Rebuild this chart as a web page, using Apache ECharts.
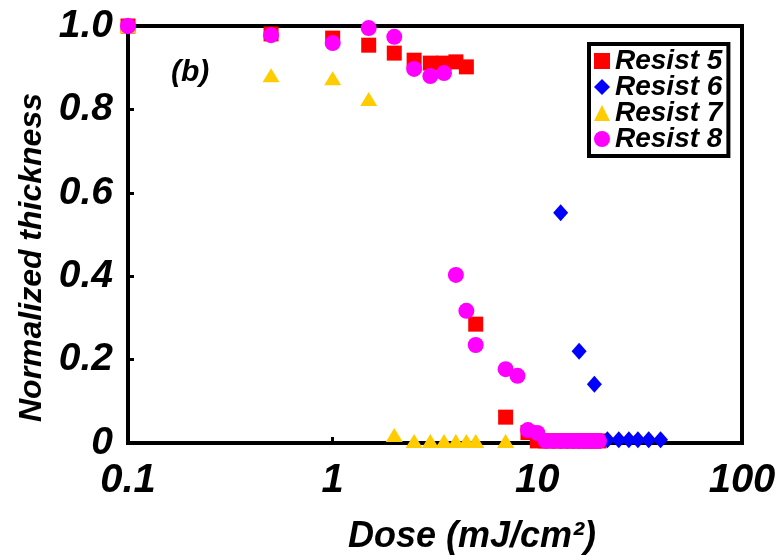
<!DOCTYPE html>
<html>
<head>
<meta charset="utf-8">
<script src="https://cdn.jsdelivr.net/npm/echarts@6/dist/echarts.min.js"></script>
<style>html,body{margin:0;padding:0;background:#fff;}#c{width:782px;height:555px;}</style>
</head>
<body>
<div id="c"></div>
<script>
const xTickLabels = ['0.1', '1', '10', '100'];
const yTickLabels = ['0', '0.2', '0.4', '0.6', '0.8', '1.0'];
const seriesNames = ['Resist 5', 'Resist 6', 'Resist 7', 'Resist 8'];

const dose5 = [0.1, 0.5, 1, 1.5, 2, 2.5, 3, 3.5, 4, 4.5, 5, 7, 9, 10, 11, 12, 13, 14, 15, 16, 17, 18, 19, 20];
const val5  = [1.0, 0.981, 0.971, 0.954, 0.935, 0.918, 0.911, 0.911, 0.914, 0.902, 0.285, 0.062, 0.025, 0.005, 0.005, 0.005, 0.005, 0.005, 0.005, 0.005, 0.005, 0.005, 0.005, 0.005];

const dose6 = [0.1, 13, 16, 19, 22, 25, 28, 31, 35, 40];
const val6  = [1.0, 0.552, 0.22, 0.141, 0.008, 0.008, 0.008, 0.008, 0.008, 0.008];

const dose7 = [0.1, 0.5, 1, 1.5, 2, 2.5, 3, 3.5, 4, 4.5, 5, 7];
const val7  = [1.0, 0.882, 0.875, 0.825, 0.019, 0.005, 0.005, 0.005, 0.005, 0.005, 0.005, 0.005];

const dose8 = [0.1, 0.5, 1, 1.5, 2, 2.5, 3, 3.5, 4, 4.5, 5, 7, 8, 9, 10, 11, 12, 13, 14, 15, 16, 17, 18, 19, 20];
const val8  = [1.0, 0.978, 0.959, 0.995, 0.974, 0.897, 0.88, 0.887, 0.403, 0.317, 0.235, 0.177, 0.161, 0.031, 0.024, 0.005, 0.005, 0.005, 0.005, 0.005, 0.005, 0.005, 0.005, 0.005, 0.005];

const FONT = '"Liberation Sans", Arial, sans-serif';
function pairs(xs, ys) { return xs.map((x, i) => [x, ys[i]]); }

const chart = echarts.init(document.getElementById('c'), null, {renderer: 'canvas'});
const txt = {fontFamily: FONT, fontWeight: 'bold', fontStyle: 'italic', color: '#000'};

chart.setOption({
  animation: false,
  backgroundColor: '#fff',
  grid: {left: 128, right: 40, top: 26, bottom: 112, outerBoundsMode: 'none', show: true, borderColor: '#000', borderWidth: 4, backgroundColor: 'transparent'},
  legend: {
    orient: 'vertical', left: 589, top: 44,
    data: seriesNames,
    borderColor: '#000', borderWidth: 4, backgroundColor: '#fff',
    padding: [3, 6, 3, 5], itemGap: -2, itemWidth: 16, itemHeight: 16,
    textStyle: Object.assign({}, txt, {fontSize: 28}),
  },
  graphic: [{type: 'text', left: 171, top: 58, style: {text: '(b)', font: 'italic bold 30px ' + FONT, fill: '#000'}}],
  xAxis: {
    type: 'log', logBase: 10, min: 0.1, max: 100,
    name: 'Dose (mJ/cm²)', nameLocation: 'middle', nameGap: 76,
    nameTextStyle: Object.assign({}, txt, {fontSize: 36, padding: [0, 0, 0, 74]}),
    axisLine: {lineStyle: {color: '#000', width: 4}},
    axisTick: {inside: true, length: 6, lineStyle: {color: '#000', width: 3}},
    minorTick: {show: false},
    splitLine: {show: false},
    axisLabel: Object.assign({}, txt, {fontSize: 40, margin: 18,
      formatter: v => xTickLabels[Math.round(Math.log10(v)) + 1] || ''}),
  },
  yAxis: {
    type: 'value', min: 0, max: 1, interval: 0.2,
    name: 'Normalized thickness', nameLocation: 'middle', nameGap: 62,
    nameTextStyle: Object.assign({}, txt, {fontSize: 32, padding: [0, 46, 0, 0]}),
    axisLine: {lineStyle: {color: '#000', width: 4}},
    axisTick: {inside: true, length: 6, lineStyle: {color: '#000', width: 3}},
    splitLine: {show: false},
    axisLabel: Object.assign({}, txt, {fontSize: 39, margin: 15,
      formatter: v => yTickLabels[Math.round(v * 5)]}),
  },
  series: [
    {name: seriesNames[0], type: 'scatter', symbol: 'rect', symbolSize: 15, itemStyle: {color: '#ff0000', opacity: 1}, data: pairs(dose5, val5)},
    {name: seriesNames[1], type: 'scatter', symbol: 'diamond', symbolSize: [15, 17], itemStyle: {color: '#0000ff', opacity: 1}, data: pairs(dose6, val6)},
    {name: seriesNames[2], type: 'scatter', symbol: 'triangle', symbolSize: [17, 14], itemStyle: {color: '#ffcc00', opacity: 1}, data: pairs(dose7, val7)},
    {name: seriesNames[3], type: 'scatter', symbol: 'circle', symbolSize: 16, itemStyle: {color: '#ff00ff', opacity: 1}, data: pairs(dose8, val8)},
  ],
});
</script>
</body>
</html>
